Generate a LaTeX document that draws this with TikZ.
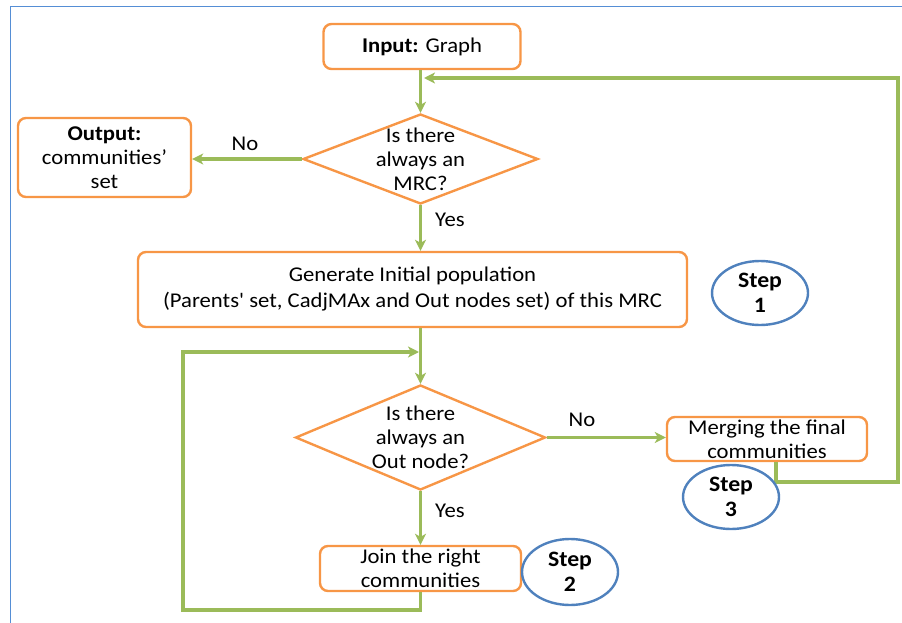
\documentclass[tikz,border=0pt]{standalone}
\usepackage{fontspec}
\setmainfont{Carlito}[Ligatures=TeXOff, FakeStretch=1.08]
\usetikzlibrary{shapes.geometric,arrows.meta,calc}
\definecolor{boxorange}{HTML}{F79646}
\definecolor{flowgreen}{HTML}{9BBB59}
\definecolor{stepblue}{HTML}{4F81BD}
\definecolor{frameblue}{HTML}{558ED5}

\begin{document}
\begin{tikzpicture}[x=1pt,y=-1pt,
  font=\fontsize{21}{24}\selectfont,
  procbox/.style={draw=boxorange, line width=2.4pt, rounded corners=8pt,
    align=center, inner sep=0pt, fill=white},
  decision/.style={draw=boxorange, line width=2.4pt, diamond, inner sep=0pt},
  qtext/.style={align=center, inner sep=0pt},
  steplabel/.style={draw=stepblue, line width=2.4pt, ellipse, align=center,
    inner sep=0pt, fill=white, font=\fontsize{22}{25}\selectfont\bfseries},
  flow/.style={draw=flowgreen, line width=3.2pt,
    -{Stealth[length=11pt,width=11pt,inset=3pt]}},
  tag/.style={inner sep=0pt}]

\useasboundingbox (0,0) rectangle (902,623);

% frame
\draw[frameblue, line width=1.5pt] (10.5,623) -- (10.5,6.5) -- (902,6.5);

% process boxes
\node[procbox, minimum width=197pt, minimum height=45pt] (inbox) at (422,46.5)
  {\textbf{Input:} Graph};
\node[procbox, minimum width=173pt, minimum height=79pt] (outbox) at (104.5,157.5)
  {\textbf{Output:}\\communities’\\set};
\node[procbox, minimum width=549pt, minimum height=75pt] (genbox) at (412.5,289.5)
  {Generate Initial population\\[2pt](Parents' set, CadjMAx and Out nodes set) of this MRC};
\node[procbox, minimum width=200pt, minimum height=44pt] (mergebox) at (767,439)
  {Merging the final\\communities};
\node[procbox, minimum width=201pt, minimum height=45pt] (joinbox) at (420.5,568.5)
  {Join the right\\communities};

% decisions
\node[decision, minimum width=235pt, minimum height=90pt] (q1) at (420.5,159) {};
\node[qtext] (q1t) at (q1.center) {Is there\\always an\\MRC?};
\node[decision, minimum width=250pt, minimum height=105pt] (q2) at (420.5,437.5) {};
\node[qtext] (q2t) at (q2.center) {Is there\\always an\\Out node?};

% connector corners
\coordinate (rbot) at (898,482);
\coordinate (rtop) at (898,78);
\coordinate (rin) at (424,78);
\coordinate (lbot) at (183,610);
\coordinate (ltop) at (183,352);
\coordinate (lin) at (419,352);

% connectors
\draw[flow] (inbox.south -| q1.north) -- (q1.north);
\draw[flow] (q1.west) -- (q1.west -| outbox.east);
\draw[flow] (q1.south) -- (q1.south |- genbox.north);
\draw[flow] (genbox.south -| q2.north) -- (q2.north);
\draw[flow] (q2.east) -- (q2.east -| mergebox.west);
\draw[flow] (q2.south) -- (joinbox.north);
\draw[flow] (joinbox.south) |- (lbot) -- (ltop) -- (lin);
\draw[flow] ([xshift=9pt]mergebox.south) |- (rbot) -- (rtop) -- (rin);

% branch labels
\node[tag] (no1) at (245,144) {No};
\node[tag] (yes1) at (450,220) {Yes};
\node[tag] (no2) at (582,420) {No};
\node[tag] (yes2) at (450,511) {Yes};

% step markers
\node[steplabel, minimum width=96pt, minimum height=64pt] (step1) at (760,293) {Step\\1};
\node[steplabel, minimum width=96pt, minimum height=64pt] (step3) at (731,497) {Step\\3};
\node[steplabel, minimum width=96pt, minimum height=66pt] (step2) at (570,572) {Step\\2};

\end{tikzpicture}
\end{document}
